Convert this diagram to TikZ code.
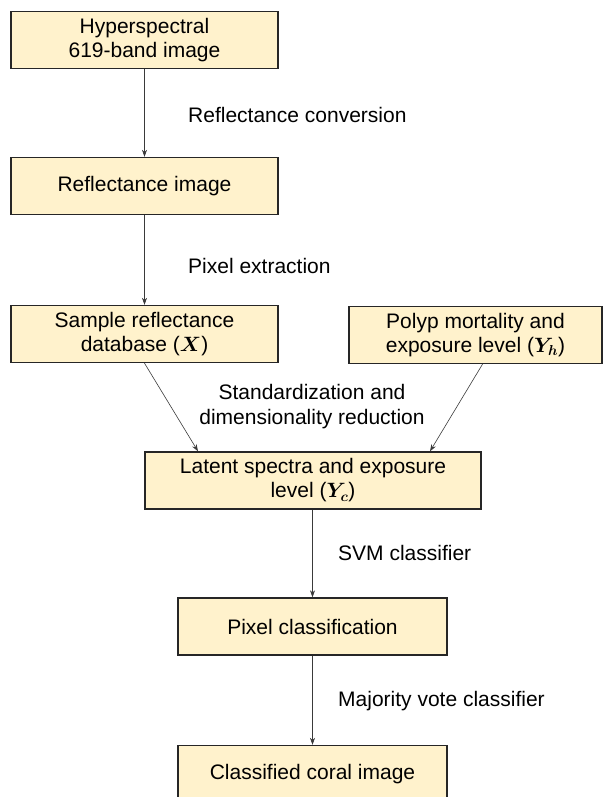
\documentclass[tikz,border=0pt]{standalone}
\usepackage{amsmath}
\usepackage{fontspec}
\setmainfont{Liberation Sans}
\usetikzlibrary{arrows.meta}
\definecolor{boxfill}{HTML}{FFF2CC}
\definecolor{boxline}{HTML}{262626}
\definecolor{arrowline}{HTML}{3A3A3A}
\begin{document}
\begin{tikzpicture}[x=1pt,y=-1pt]
        \tikzstyle{stage}=[rectangle,draw=boxline,line width=1.4pt,fill=boxfill,minimum height=57pt,inner sep=0pt,align=center,font=\fontsize{21}{24}\selectfont]
        \tikzstyle{link}=[draw=arrowline,line width=0.6pt,-{Stealth[length=7pt,width=5pt]}]
        \tikzstyle{note}=[font=\fontsize{21}{25}\selectfont,inner sep=0pt]
        \useasboundingbox (0,0) rectangle (603,797);
       \begin{scope}
         \node [stage,minimum width=267pt] (hsi) at (144.5,40) {Hyperspectral\\619-band image};
         \node [stage,minimum width=267pt] (refl) at (144.5,186) {Reflectance image};
         \node [stage,minimum width=267pt] (db) at (144.5,334) {Sample reflectance\\database ($\boldsymbol{X}$)};
         \node [stage,minimum width=253pt] (polyp) at (475.5,335) {Polyp mortality and\\exposure level ($\boldsymbol{Y_h}$)};
         \node [stage,minimum width=336pt] (latent) at (313,480.5) {Latent spectra and exposure\\level ($\boldsymbol{Y_c}$)};
         \node [stage,minimum width=269pt] (pix) at (312.5,626.5) {Pixel classification};
         \node [stage,minimum width=269pt] (coral) at (312.5,774) {Classified coral image};
         \node [note,anchor=west] (convlbl) at (188,115) {Reflectance conversion};
         \node [note,anchor=west] (extrlbl) at (188,266) {Pixel extraction};
         \node [note,align=center] (reduclbl) at (312,407) {Standardization and\\dimensionality reduction};
         \node [note,anchor=west] (svmlbl) at (338,553) {SVM classifier};
         \node [note,anchor=west] (votelbl) at (338,701) {Majority vote classifier};
         \path (hsi) edge[link] (refl);
         \path (refl) edge[link] (db);
         \path (db.south) edge[link] ([xshift=-115pt]latent.north);
         \path ([xshift=7pt]polyp.south) edge[link] ([xshift=117pt]latent.north);
         \path (latent.south -| pix) edge[link] (pix);
         \path (pix) edge[link] (coral);
        \end{scope}
      \end{tikzpicture}
\end{document}
